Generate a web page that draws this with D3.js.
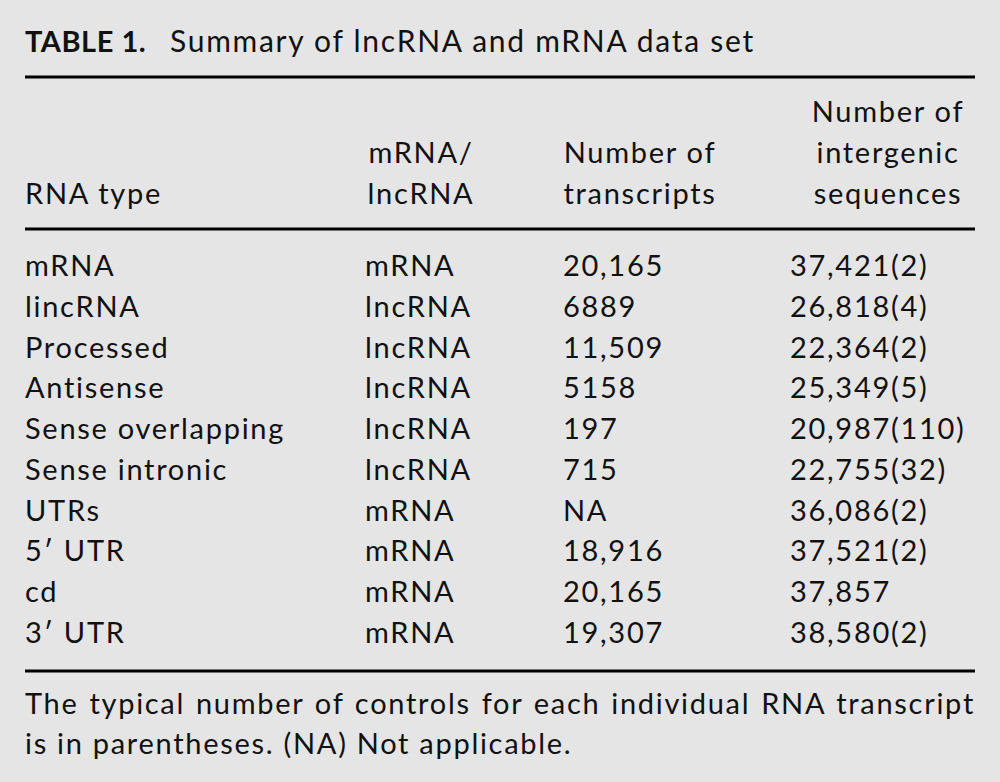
<!DOCTYPE html>
<html>
<head>
<meta charset="utf-8">
<script src="https://cdn.jsdelivr.net/npm/d3@7"></script>
<style>
  html, body { margin: 0; padding: 0; background: #e5e5e5; }
  svg { display: block; }
  text { font-family: Lato, "Open Sans", sans-serif; fill: #111; }
</style>
</head>
<body>
<div id="table1"></div>
<script>
  // table contents
  var title_bold = 'TABLE 1.';
  var title_rest = 'Summary of lncRNA and mRNA data set';
  var headers = [
    ['RNA type'],
    ['mRNA/', 'lncRNA'],
    ['Number of', 'transcripts'],
    ['Number of', 'intergenic', 'sequences']
  ];
  var rna_types = ['mRNA', 'lincRNA', 'Processed', 'Antisense', 'Sense overlapping',
                   'Sense intronic', 'UTRs', '5\u2032 UTR', 'cd', '3\u2032 UTR'];
  var classes = ['mRNA', 'lncRNA', 'lncRNA', 'lncRNA', 'lncRNA',
                 'lncRNA', 'mRNA', 'mRNA', 'mRNA', 'mRNA'];
  var transcripts = ['20,165', '6889', '11,509', '5158', '197',
                     '715', 'NA', '18,916', '20,165', '19,307'];
  var intergenic = ['37,421(2)', '26,818(4)', '22,364(2)', '25,349(5)', '20,987(110)',
                    '22,755(32)', '36,086(2)', '37,521(2)', '37,857', '38,580(2)'];
  var footnote = ['The typical number of controls for each individual RNA transcript',
                  'is in parentheses. (NA) Not applicable.'];

  var width = 1000, height = 782;
  var left = 25, right = 975;
  var fs = 29;

  var svg = d3.select('#table1').append('svg')
    .attr('width', width)
    .attr('height', height);

  // the original face is wider than Lato, so open up the tracking a bit:
  // "Sense overlapping" should run about 260px
  var probe = svg.append('text').style('font-size', fs + 'px').text('Sense overlapping');
  var ls = (260 - probe.node().getComputedTextLength()) / 17;
  probe.remove();
  svg.style('letter-spacing', ls + 'px');

  // title
  var title = svg.append('text')
    .attr('x', left)
    .attr('y', 52);
  title.append('tspan')
    .style('font-weight', 'bold')
    .style('font-size', fs + 'px')
    .style('letter-spacing', '0.5px')
    .text(title_bold);
  title.append('tspan')
    .attr('dx', 24)
    .style('font-size', (fs + 1) + 'px')
    .text(title_rest);

  // rules
  var rules = [77, 229, 671];
  svg.selectAll('line.rule')
    .data(rules)
    .enter().append('line')
      .attr('class', 'rule')
      .attr('x1', left).attr('x2', right)
      .attr('y1', function(d) { return d; })
      .attr('y2', function(d) { return d; })
      .attr('stroke', '#000')
      .attr('stroke-width', 3);

  // header: lines stacked bottom-up, centred over each column
  var headCenter = [left, 421, 640, 888];
  var headLine = d3.scaleLinear().domain([0, 1]).range([204, 163]);
  headers.forEach(function(lines, c) {
    var n = lines.length;
    svg.selectAll('text.h' + c)
      .data(lines)
      .enter().append('text')
        .attr('class', 'h' + c)
        .attr('x', headCenter[c])
        .attr('y', function(d, i) { return headLine(n - 1 - i); })
        .attr('text-anchor', c === 0 ? 'start' : 'middle')
        .style('font-size', fs + 'px')
        .text(function(d) { return d; });
  });

  // body rows
  var y = d3.scalePoint().domain(d3.range(rna_types.length)).range([276, 643]);
  var colX = [left, 365, 563, 790];
  var columns = [rna_types, classes, transcripts, intergenic];
  columns.forEach(function(col, c) {
    svg.selectAll('text.c' + c)
      .data(col)
      .enter().append('text')
        .attr('class', 'c' + c)
        .attr('x', colX[c])
        .attr('y', function(d, i) { return y(i); })
        .style('font-size', fs + 'px')
        .text(function(d) { return d; });
  });

  // footnote, first line justified to full width
  var foot = svg.selectAll('text.foot')
    .data(footnote)
    .enter().append('text')
      .attr('class', 'foot')
      .attr('x', left)
      .attr('y', function(d, i) { return 714 + i * 40; })
      .style('font-size', fs + 'px')
      .text(function(d) { return d; });

  var first = foot.filter(function(d, i) { return i === 0; });
  var natural = first.node().getComputedTextLength();
  var gaps = footnote[0].split(' ').length - 1;
  if (natural < right - left) {
    first.style('word-spacing', ((right - left - natural) / gaps) + 'px');
  }
</script>
</body>
</html>
